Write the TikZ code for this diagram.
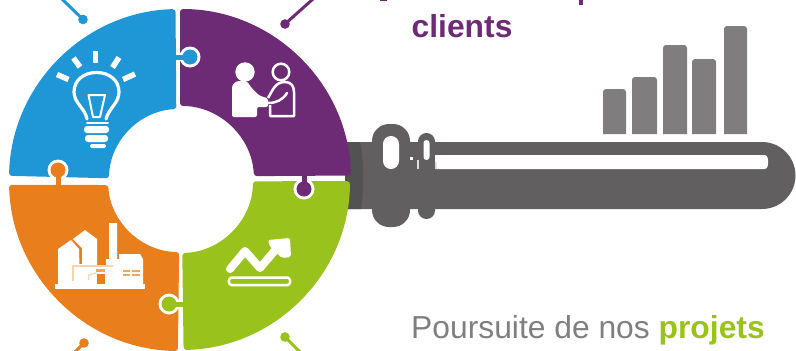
\documentclass[tikz,border=0pt]{standalone}
\usepackage{fontspec}
\setmainfont{Liberation Sans}
\definecolor{cblue}{HTML}{1F96D6}
\definecolor{cpurple}{HTML}{6E2B75}
\definecolor{corange}{HTML}{E97F1C}
\definecolor{cgreen}{HTML}{99C31C}
\definecolor{ckey}{HTML}{615F5F}
\definecolor{ccollar}{HTML}{525252}
\definecolor{cbar}{HTML}{7F7D7E}
\definecolor{ctext}{HTML}{7F7F7F}
\definecolor{cpeach}{HTML}{F8D3AE}
\tikzset{
  quad/.style={rounded corners=3pt},
  lead/.style={line width=3pt},
  iconline/.style={draw=white,line width=2.5pt,line cap=round,line join=round},
  rayline/.style={draw=white,line width=5.5pt},
  barshape/.style={fill=cbar,rounded corners=3pt},
  lbl/.style={inner sep=0pt,anchor=base west,font=\fontsize{31.8pt}{34pt}\selectfont}
}
\begin{document}
\begin{tikzpicture}[x=1pt,y=-1pt]
\useasboundingbox (0,0) rectangle (796,351);
\clip (0,0) rectangle (796,351);
% key
\fill[ckey] (345,142) -- (762,142) arc[start angle=90,end angle=-90,radius=33.5pt] -- (345,209) -- cycle;
\fill[ccollar] (345,142) -- (360,142) .. controls (364,160) and (364,190) .. (361,209) -- (345,209) -- cycle;
\fill[ckey,rounded corners=17pt] (372,124) rectangle (410,227);
\fill[ckey,rounded corners=8.4pt] (418,133) rectangle (435,219);
\fill[white,rounded corners=2.5pt] (433,155) -- (767,155) -- (768.5,162) -- (767,169) -- (433,169) -- cycle;
\fill[ckey] (426,150) rectangle (435,172);
\fill[white,rounded corners=7.9pt] (383,136) rectangle (399,169);
\fill[white,rounded corners=2.9pt] (423.5,140) rectangle (429.5,160);
\fill[white] (409.5,157) rectangle (412.5,160);
\fill[white!80!ckey] (416.5,160) rectangle (418.5,169);
\fill[white!80!ckey] (435,162) rectangle (436.5,169);
% bars
\path[barshape] (603,134) -- (603,89) -- (626,89) [sharp corners] -- (626,134) -- cycle;
\path[barshape] (632,134) -- (632,77) -- (657,77) [sharp corners] -- (657,134) -- cycle;
\path[barshape] (663,134) -- (663,45) -- (687,45) [sharp corners] -- (687,134) -- cycle;
\path[barshape] (692,134) -- (692,59) -- (716,59) [sharp corners] -- (716,134) -- cycle;
\path[barshape] (724,134) -- (724,26) -- (747,26) [sharp corners] -- (747,134) -- cycle;
% ring quadrants
\begin{scope}[shift={(180,180)}]
\fill[cblue,quad] (91.5:171pt) arc[start angle=91.5,end angle=178.6,radius=171pt] -- (178.6:71pt) arc[start angle=178.6,end angle=93,radius=71pt] -- cycle;
\fill[cpurple,quad] (90:171pt) arc[start angle=90,end angle=1.5,radius=171pt] -- (3:74pt) arc[start angle=3,end angle=90,radius=74pt] -- cycle;
\fill[corange,quad] (181.6:171pt) arc[start angle=181.6,end angle=269.3,radius=171pt] -- (269.3:72pt) arc[start angle=269.3,end angle=184,radius=72pt] -- cycle;
\fill[cgreen,quad] (359.6:170pt) arc[start angle=359.6,end angle=271.2,radius=170pt] -- (271.8:73pt) arc[start angle=271.8,end angle=359,radius=73pt] -- cycle;
\end{scope}
% puzzle tabs
\coordinate (tabB) at (190,57);
\coordinate (tabO) at (58,170);
\coordinate (tabP) at (304,189);
\coordinate (tabG) at (169,304);
\fill[white] (tabB) circle[radius=10.5pt];
\fill[white] (tabO) circle[radius=10.5pt];
\fill[white] (tabP) circle[radius=10.5pt];
\fill[white] (tabG) circle[radius=10.5pt];
\fill[cblue] (tabB) circle[radius=7.5pt];
\fill[cblue] (172,54.5) rectangle (188,59.5);
\fill[corange] (tabO) circle[radius=7.5pt];
\fill[corange] (55.5,172) rectangle (60.5,188);
\fill[cpurple] (tabP) circle[radius=7.5pt];
\fill[cpurple] (301.5,172) rectangle (306.5,187);
\fill[cgreen] (tabG) circle[radius=7.5pt];
\fill[cgreen] (171,301.5) rectangle (187,306.5);
% cut-off leaders
\coordinate (ldB) at (83,19.5);
\coordinate (ldP) at (285,24);
\coordinate (ldO) at (84,343);
\coordinate (ldG) at (285,337);
\coordinate (endB) at (62,-1);
\coordinate (endP) at (313,-1);
\coordinate (endO) at (74,353);
\coordinate (endG) at (300,352);
\fill[cblue] (ldB) circle[radius=4.8pt];
\draw[cblue,lead] (endB) -- (ldB);
\fill[cpurple] (ldP) circle[radius=4.8pt];
\draw[cpurple,lead] (endP) -- (ldP);
\fill[corange] (ldO) circle[radius=4.8pt];
\draw[corange,lead] (endO) -- (ldO);
\fill[cgreen] (ldG) circle[radius=4.8pt];
\draw[cgreen,lead] (endG) -- (ldG);
% bulb icon
\draw[rayline] (95.7,51) -- (95.7,63);
\draw[rayline] (73.5,58) -- (80,67);
\draw[rayline] (119,57.5) -- (112.5,67.5);
\draw[rayline] (57,74.5) -- (68.5,79.5);
\draw[rayline] (135,74) -- (123,79.5);
\draw[iconline,line width=3.2pt] (87,119) .. controls (85,108) and (74,103) .. (74,92) .. controls (74,80) and (84,72.5) .. (96.5,72.5) .. controls (109,72.5) and (119,80) .. (119,92) .. controls (119,103) and (109,108) .. (106,119);
\draw[iconline,line width=2pt] (88.5,95) -- (105,95) -- (100,117) -- (93,117) -- cycle;
\draw[iconline,line width=2pt] (87,122.5) -- (108,122.5);
\fill[white,rounded corners=3pt] (84,126) rectangle (109,133);
\fill[white,rounded corners=3pt] (85,135) rectangle (108,142);
\fill[white,rounded corners=2pt] (90,144) rectangle (106,148);
% handshake icon
\fill[white] (245,72) circle[radius=9.7pt];
\fill[white,rounded corners=2pt] (232,117) -- (232,90) .. controls (232,84) and (236,81) .. (241,81) -- (247,81) .. controls (250,86) and (256,94) .. (263,97) -- (268,98) -- (268,107) -- (257,107) -- (257,117) -- cycle;
\draw[iconline] (281,72) circle[radius=8.3pt];
\draw[iconline,line cap=butt] (268,98) .. controls (273,90) and (275,82) .. (285,82) .. controls (291,82) and (294,86) .. (294,92) -- (294,116) -- (270,116) -- (270,105);
\draw[iconline] (268,103) .. controls (276,103) and (283,100) .. (287,93);
% arrow icon
\draw[white,line width=8pt,line cap=round,line join=round] (230,269) -- (245,251) -- (260,268) -- (277,248);
\fill[white,rounded corners=2pt] (268,240) -- (290,238) -- (291,257) -- (282,258) -- (270,247) -- cycle;
\draw[iconline] (231,277.5) -- (288,277.5) .. controls (291,280) and (291,283) .. (288,285) -- (231,285) .. controls (228,283) and (228,280) .. (231,277.5) -- cycle;
% factory icon
\fill[white] (55,284) rectangle (145,289);
\fill[white] (58,284) -- (58,249) -- (71,240) -- (79,249) -- (80,284) -- cycle;
\fill[white] (82,284) -- (82,248) -- (73,239) -- (85,230) -- (97,239) -- (97,266) -- (106,266) -- (106,259) -- (109,259) -- (109,223) -- (117,223) -- (117,259) -- (119,259) -- (119,254) -- (140,254) -- (143,259) -- (143,284) -- cycle;
\fill[white] (73,264) rectangle (82,284);
\draw[cpeach,line width=1.2pt] (73,281) -- (73,266) -- (113,266);
\draw[cpeach,line width=1.2pt] (88.5,280) -- (88.5,275) -- (96,273);
\fill[corange] (97,274) rectangle (105,284);
\fill[corange!70!white] (96,269) rectangle (105,272);
\fill[corange!70!white] (123,270) rectangle (130,272);
\fill[corange!70!white] (132,270) rectangle (140,272);
\fill[corange!70!white] (123,274) rectangle (130,276);
\fill[corange!70!white] (132,274) rectangle (140,276);
% cropped descenders of the line above
\fill[cpurple] (380,0) rectangle (387,1);
\fill[cpurple] (579,0) rectangle (583,5);
% texts
\node[lbl,text=cpurple] (clients) at (411.5,37) {\textbf{clients}};
\node[lbl,text=ctext] (pours) at (411,338) {Poursuite de nos \textcolor{cgreen}{\textbf{projets}}};
\end{tikzpicture}
\end{document}
